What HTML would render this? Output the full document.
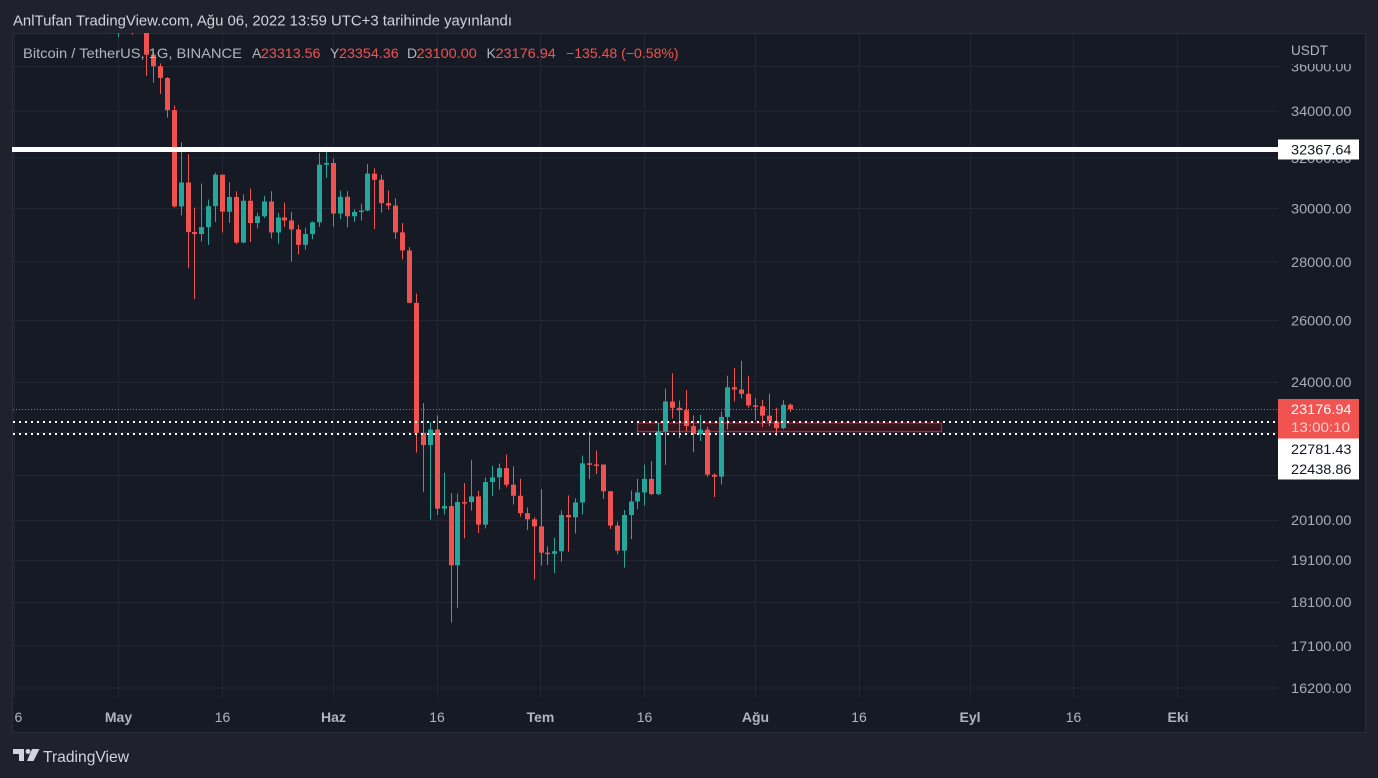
<!DOCTYPE html>
<html><head><meta charset="utf-8"><style>
html,body{margin:0;padding:0;background:#1f222c;}
svg{display:block;font-family:"Liberation Sans",sans-serif;}
</style></head><body>
<svg id="s" width="1378" height="778" viewBox="0 0 1378 778" xmlns="http://www.w3.org/2000/svg">
<defs><clipPath id="plot"><rect x="12" y="33" width="1266" height="665"/></clipPath>
<clipPath id="axisclip"><rect x="1278" y="64" width="88" height="634"/></clipPath>
<clipPath id="timeclip"><rect x="14.5" y="698" width="1264" height="35"/></clipPath></defs>
<rect x="0" y="0" width="1378" height="778" fill="#1f222c"/>
<rect x="12.5" y="33.5" width="1353" height="699" fill="#161a25" stroke="#2a2e39" stroke-width="1"/>
<g stroke="#232733" stroke-width="1">
<line x1="13" x2="1278" y1="66.5" y2="66.5"/><line x1="13" x2="1278" y1="111" y2="111"/>
<line x1="13" x2="1278" y1="158" y2="158"/><line x1="13" x2="1278" y1="208.5" y2="208.5"/>
<line x1="13" x2="1278" y1="262" y2="262"/><line x1="13" x2="1278" y1="320.5" y2="320.5"/>
<line x1="13" x2="1278" y1="382.5" y2="382.5"/><line x1="13" x2="1278" y1="432.5" y2="432.5"/>
<line x1="13" x2="1278" y1="475.5" y2="475.5"/><line x1="13" x2="1278" y1="520.5" y2="520.5"/>
<line x1="13" x2="1278" y1="560.5" y2="560.5"/><line x1="13" x2="1278" y1="602.5" y2="602.5"/>
<line x1="13" x2="1278" y1="646" y2="646"/><line x1="13" x2="1278" y1="688" y2="688"/>
<line x1="14.5" x2="14.5" y1="34" y2="698"/><line x1="118.5" x2="118.5" y1="34" y2="698"/>
<line x1="222.5" x2="222.5" y1="34" y2="698"/><line x1="333.5" x2="333.5" y1="34" y2="698"/>
<line x1="437.5" x2="437.5" y1="34" y2="698"/><line x1="540.5" x2="540.5" y1="34" y2="698"/>
<line x1="644.5" x2="644.5" y1="34" y2="698"/><line x1="755.5" x2="755.5" y1="34" y2="698"/>
<line x1="859.5" x2="859.5" y1="34" y2="698"/><line x1="970.5" x2="970.5" y1="34" y2="698"/>
<line x1="1073.5" x2="1073.5" y1="34" y2="698"/><line x1="1177.5" x2="1177.5" y1="34" y2="698"/>
</g>
<rect x="637.5" y="423" width="304" height="8.5" fill="#3a1520" fill-opacity="0.85" stroke="#c8182a" stroke-width="1.2"/>
<g id="candles" clip-path="url(#plot)"></g>
<g clip-path="url(#plot)">
<rect x="12" y="147" width="1266" height="5" fill="#ffffff"/>
<line x1="13" x2="1277" y1="409.5" y2="409.5" stroke="#f05350" stroke-width="1" stroke-dasharray="1 2"/>
<line x1="13" x2="1277" y1="422" y2="422" stroke="#ffffff" stroke-width="2" stroke-dasharray="2 4"/>
<line x1="13" x2="1277" y1="434" y2="434" stroke="#ffffff" stroke-width="2" stroke-dasharray="2 4"/>
</g>
<text x="13" y="25.5" font-size="14.5" fill="#d1d4dc" textLength="499" lengthAdjust="spacingAndGlyphs">AnlTufan TradingView.com, Ağu 06, 2022 13:59 UTC+3 tarihinde yayınlandı</text>
<g font-size="14" fill="#b2b5be">
<text x="23" y="58" textLength="219" lengthAdjust="spacingAndGlyphs">Bitcoin / TetherUS, 1G, BINANCE</text>
<text x="252" y="58">A</text><text x="261" y="58" fill="#f05350" textLength="59.5" lengthAdjust="spacingAndGlyphs">23313.56</text>
<text x="330" y="58">Y</text><text x="339" y="58" fill="#f05350" textLength="59.7" lengthAdjust="spacingAndGlyphs">23354.36</text>
<text x="407" y="58">D</text><text x="416.5" y="58" fill="#f05350" textLength="60.3" lengthAdjust="spacingAndGlyphs">23100.00</text>
<text x="486.5" y="58">K</text><text x="495.5" y="58" fill="#f05350" textLength="60.3" lengthAdjust="spacingAndGlyphs">23176.94</text>
<text x="566" y="58" fill="#f05350" textLength="112.6" lengthAdjust="spacingAndGlyphs">−135.48 (−0.58%)</text>
</g>
<text x="1291" y="55" font-size="14" fill="#b2b5be" textLength="37" lengthAdjust="spacingAndGlyphs">USDT</text>
<g font-size="14" fill="#a9acb5" clip-path="url(#axisclip)">
<text x="1291" y="71.5" textLength="60.5" lengthAdjust="spacingAndGlyphs">36000.00</text>
<text x="1291" y="116" textLength="60.5" lengthAdjust="spacingAndGlyphs">34000.00</text>
<text x="1291" y="163" textLength="60.5" lengthAdjust="spacingAndGlyphs">32000.00</text>
<text x="1291" y="213.5" textLength="60.5" lengthAdjust="spacingAndGlyphs">30000.00</text>
<text x="1291" y="267" textLength="60.5" lengthAdjust="spacingAndGlyphs">28000.00</text>
<text x="1291" y="325.5" textLength="60.5" lengthAdjust="spacingAndGlyphs">26000.00</text>
<text x="1291" y="387" textLength="60.5" lengthAdjust="spacingAndGlyphs">24000.00</text>
<text x="1291" y="525" textLength="60.5" lengthAdjust="spacingAndGlyphs">20100.00</text>
<text x="1291" y="565" textLength="60.5" lengthAdjust="spacingAndGlyphs">19100.00</text>
<text x="1291" y="607" textLength="60.5" lengthAdjust="spacingAndGlyphs">18100.00</text>
<text x="1291" y="651" textLength="60.5" lengthAdjust="spacingAndGlyphs">17100.00</text>
<text x="1291" y="693" textLength="60.5" lengthAdjust="spacingAndGlyphs">16200.00</text>
</g>
<rect x="1278" y="139.5" width="81" height="20" fill="#ffffff"/>
<text x="1291" y="154.5" font-size="14" fill="#131722" textLength="60.5" lengthAdjust="spacingAndGlyphs">32367.64</text>
<rect x="1278" y="399" width="81" height="39.5" fill="#f05350"/>
<text x="1291" y="414" font-size="14" fill="#ffffff" textLength="60.5" lengthAdjust="spacingAndGlyphs">23176.94</text>
<text x="1291" y="432" font-size="14" fill="#fcd2d1" textLength="59" lengthAdjust="spacingAndGlyphs">13:00:10</text>
<rect x="1278" y="438.5" width="81" height="41" fill="#ffffff"/>
<text x="1291" y="454" font-size="14" fill="#131722" textLength="60.5" lengthAdjust="spacingAndGlyphs">22781.43</text>
<text x="1291" y="474" font-size="14" fill="#131722" textLength="60.5" lengthAdjust="spacingAndGlyphs">22438.86</text>
<g font-size="14" fill="#b2b5be" text-anchor="middle" clip-path="url(#timeclip)">
<text x="14.5" y="722">16</text>
<text x="118.5" y="722" font-weight="bold">May</text>
<text x="222.5" y="722">16</text>
<text x="333.5" y="722" font-weight="bold">Haz</text>
<text x="437" y="722">16</text>
<text x="540.5" y="722" font-weight="bold">Tem</text>
<text x="644.5" y="722">16</text>
<text x="755.5" y="722" font-weight="bold">Ağu</text>
<text x="859" y="722">16</text>
<text x="970" y="722" font-weight="bold">Eyl</text>
<text x="1073.5" y="722">16</text>
<text x="1178" y="722" font-weight="bold">Eki</text>
</g>
<g fill="#d1d4dc">
<rect x="13" y="749" width="11" height="5"/>
<rect x="19" y="749" width="5" height="12"/>
<circle cx="28" cy="751.5" r="2.5"/>
<polygon points="32,749 39.5,749 33.5,761 27,761"/>
</g>
<text x="43" y="762" font-size="16" fill="#d1d4dc" textLength="86" lengthAdjust="spacingAndGlyphs">TradingView</text>
</svg>
<script>
(function(){
var D=[
[38112,39474,37881,39235],[39235,40372,38881,39742],[39742,39925,38175,38596],[38596,38795,37578,37630],
[37630,38675,37386,38468],[38468,39167,38052,38525],[38525,38651,37500,37728],[37728,39980,37670,39690],
[39690,39845,35571,36552],[36552,36668,35258,36013],[36013,36146,34750,35472],[35472,35510,33713,34039],
[34039,34243,30033,30077],[30077,32659,29730,31017],[31017,32162,27785,29103],[29103,30032,26700,29030],
[29030,30976,28751,29287],[29287,30343,28630,30089],[30089,31414,29480,31328],[31328,31328,29087,29874],
[29874,31026,29450,30444],[30444,30666,28654,28716],[28716,30545,28693,30297],[30297,30777,28730,29445],
[29445,29836,29240,29700],[29700,30487,29633,30268],[30268,30670,28866,29088],[29088,29827,28669,29655],
[29655,30223,29294,29540],[29540,29864,28019,29202],[29202,29383,28282,28630],[28630,29269,28450,29031],
[29031,29500,28839,29469],[29469,32222,29299,31734],[31734,32399,31200,31802],[31802,31982,29301,29805],
[29805,30692,29594,30452],[30452,30675,29282,29700],[29700,29959,29485,29865],[29865,30189,29531,29920],
[29920,31765,29890,31373],[31373,31589,29218,31125],[31125,31327,29843,30205],[30205,30700,29944,30110],
[30110,30394,28850,29091],[29091,29440,28099,28424],[28424,28544,26560,26574],[26574,26895,21925,22487],
[22487,23362,20846,22136],[22136,22800,20111,22583],[22583,22995,20232,20401],[20401,21365,20246,20468],
[20468,20815,17622,18970],[18970,20797,17960,20574],[20574,21080,19638,20573],[20573,21723,20348,20724],
[20724,20872,19770,19987],[19987,21233,19890,21110],[21110,21558,20736,21237],[21237,21614,20906,21492],
[21492,21868,20970,21038],[21038,21540,20510,20742],[20742,21200,20188,20281],[20281,20432,19848,20123],
[20123,20179,18626,19942],[19942,20918,18966,19279],[19279,19432,18978,19252],[19252,19654,18781,19315],
[19315,20354,19055,20236],[20236,20750,19304,20175],[20175,20675,19761,20564],[20564,21838,20251,21624],
[21624,22527,21189,21594],[21594,21980,21329,21591],[21591,21591,20655,20862],[20862,20868,19878,19963],
[19963,20062,19240,19328],[19328,20366,18910,20234],[20234,20880,19616,20588],[20588,21200,20383,20830],
[20830,21588,20478,21195],[21195,21684,20757,20785],[20785,22777,20762,22525],[22525,23800,21581,23410],
[23410,24276,22906,23223],[23223,23442,22341,23152],[23152,23757,22537,22684],[22684,23000,21934,22452],
[22452,23014,22257,22579],[22579,22666,21250,21310],[21310,21347,20706,21254],[21254,23112,21042,22952],
[22952,24199,22582,23842],[23842,24442,23414,23774],[23774,24668,23505,23644],[23644,24194,23227,23293],
[23293,23510,22850,23269],[23269,23457,22654,22988],[22988,23647,22681,22819],[22819,23223,22400,22624],
[22624,23450,22586,23312],[23313,23354,23100,23177]];
var X0=118.3,DX=6.922,LN0=Math.log(34000),K=778.5,Y0=111;
function Y(p){return Y0+(LN0-Math.log(p))*K;}
var g=document.getElementById('candles'),NS='http://www.w3.org/2000/svg';
function R(x,y,w,h,c){var r=document.createElementNS(NS,'rect');r.setAttribute('x',x);r.setAttribute('y',y);r.setAttribute('width',w);r.setAttribute('height',h);r.setAttribute('fill',c);g.appendChild(r);}
for(var i=0;i<D.length;i++){
 var d=i-4,o=D[i][0],h=D[i][1],l=D[i][2],c=D[i][3];
 var xc=Math.round(X0+DX*d);
 var col=c>=o?'#26a69a':'#ef5350';
 var yh=Y(h),yl=Y(l),yo=Y(o),yc=Y(c);
 R(xc,yh,1,Math.max(1,yl-yh),col);
 var top=Math.min(yo,yc),bh=Math.max(1.5,Math.abs(yo-yc));
 R(xc-2,top,5,bh,col);
}
})();
</script>
</body></html>
